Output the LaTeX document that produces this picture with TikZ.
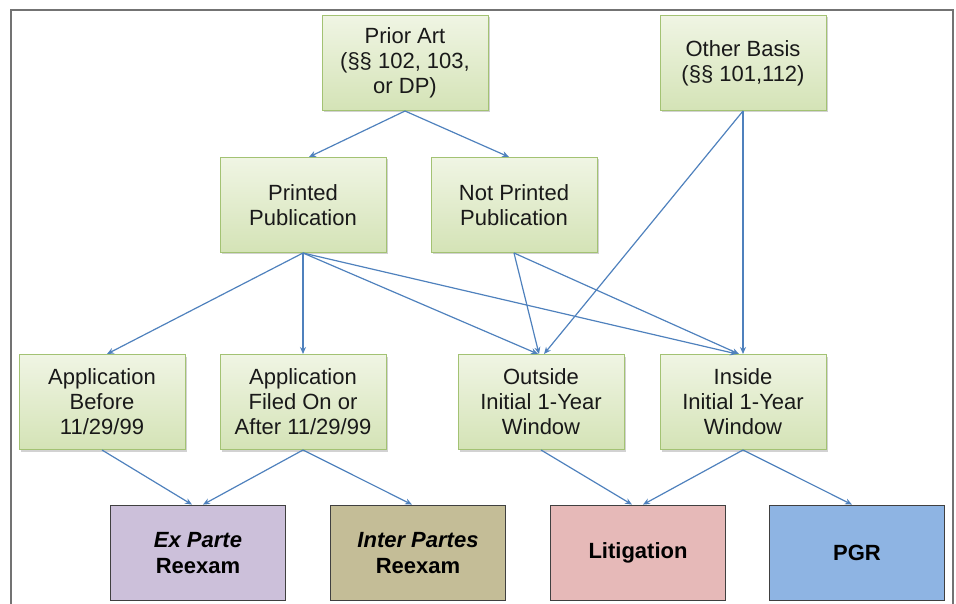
\documentclass[tikz,border=0pt]{standalone}
\usepackage{fontspec}
\setmainfont{Liberation Sans}
\usetikzlibrary{arrows.meta,shadows,calc}
\definecolor{arrowblue}{HTML}{4F81BD}
\definecolor{gtop}{HTML}{F0F5E4}
\definecolor{gbot}{HTML}{D4E3B6}
\definecolor{gline}{HTML}{A3C273}
\definecolor{expc}{HTML}{CCC0DA}
\definecolor{ipc}{HTML}{C4BD97}
\definecolor{litc}{HTML}{E6B9B8}
\definecolor{pgrc}{HTML}{8EB4E3}
\tikzset{
  gbox/.style={rectangle, draw=gline, line width=1pt, top color=gtop, bottom color=gbot,
    minimum width=166pt, minimum height=95pt, inner sep=0pt, align=center,
    text=black!90, font=\fontsize{22}{25}\selectfont,
    drop shadow={shadow xshift=1.5pt, shadow yshift=-2pt, fill=black!35, opacity=0.5}},
  bbox/.style={rectangle, draw=black!75, line width=1.8pt, fill=#1,
    minimum width=175pt, minimum height=95pt, inner sep=0pt, align=center,
    font=\fontsize{22}{26}\selectfont\bfseries},
  arr/.style={draw=arrowblue, line width=1.2pt, -{Stealth[length=7pt,width=6pt]}}
}
\begin{document}
\begin{tikzpicture}[x=1pt,y=-1pt]
\useasboundingbox (0,0) rectangle (956,604);
\draw[draw=black!55, line width=1.6pt] (11,620) -- (11,10) -- (953,10) -- (953,620);
% green boxes
\node[gbox] (pa) at (405,63) {Prior Art\\(§§ 102, 103,\\or DP)};
\node[gbox] (ob) at (743,63) {Other Basis\\(§§ 101,112)};
\node[gbox] (pp) at (303,205) {Printed\\Publication};
\node[gbox] (np) at (514,205) {Not Printed\\Publication};
\node[gbox] (ab) at (102,402) {Application\\Before\\11/29/99};
\node[gbox] (af) at (303,402) {Application\\Filed On or\\After 11/29/99};
\node[gbox] (ow) at (541,402) {Outside\\Initial 1-Year\\Window};
\node[gbox] (iw) at (743,402) {Inside\\Initial 1-Year\\Window};
% bottom boxes
\node[bbox=expc] (ex) at (198,553) {\textit{Ex Parte}\\Reexam};
\node[bbox=ipc] (ip) at (418,553) {\textit{Inter Partes}\\Reexam};
\node[bbox=litc] (li) at (638,553) {Litigation};
\node[bbox=pgrc] (pg) at (857,553) {PGR};
% arrows
\draw[arr] (pa.south) -- ([xshift=6pt]pp.north);
\draw[arr] (pa.south) -- ([xshift=-5pt]np.north);
\draw[arr] (ob.south) -- ([xshift=3pt]ow.north);
\draw[arr] (ob.south) -- (iw.north);
\draw[arr] (pp.south) -- ([xshift=5pt]ab.north);
\draw[arr] (pp.south) -- (af.north);
\draw[arr] (pp.south) -- ([xshift=-3pt]ow.north);
\draw[arr] (pp.south) -- ([xshift=-6pt]iw.north);
\draw[arr] (np.south) -- ([xshift=-2pt]ow.north);
\draw[arr] (np.south) -- ([xshift=-4pt]iw.north);
\draw[arr] (ab.south) -- ([xshift=-6pt]ex.north);
\draw[arr] (af.south) -- ([xshift=5pt]ex.north);
\draw[arr] (af.south) -- ([xshift=-6pt]ip.north);
\draw[arr] (ow.south) -- ([xshift=-6pt]li.north);
\draw[arr] (iw.south) -- ([xshift=5pt]li.north);
\draw[arr] (iw.south) -- ([xshift=-5pt]pg.north);
\end{tikzpicture}
\end{document}
